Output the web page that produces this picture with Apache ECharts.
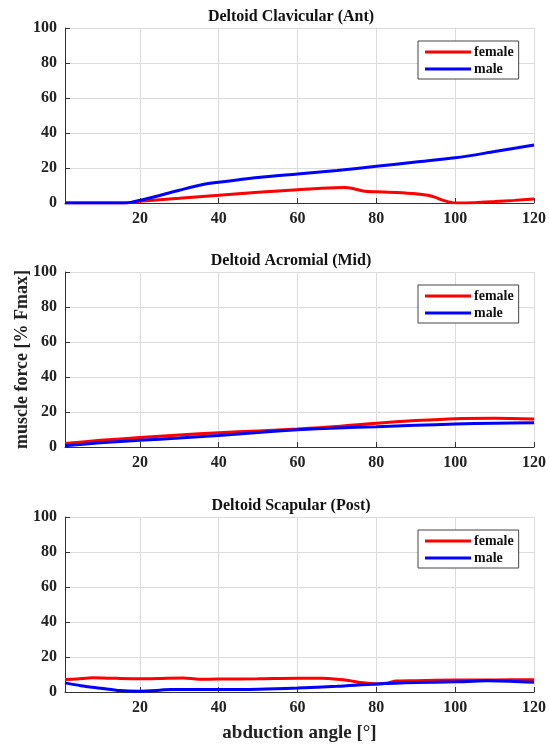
<!DOCTYPE html>
<html><head><meta charset="utf-8">
<script src="https://cdn.jsdelivr.net/npm/echarts@6/dist/echarts.min.js"></script>
<style>html,body{margin:0;padding:0;background:#fff}#c{width:549px;height:745px}</style>
</head><body><div id="c"></div>
<script>
const titles = ['Deltoid Clavicular (Ant)', 'Deltoid Acromial (Mid)', 'Deltoid Scapular (Post)'];
const xTicks = [20, 40, 60, 80, 100, 120];
const yTicks = [0, 20, 40, 60, 80, 100];
// [angle, force]
const antFemale = [[1,0],[10,0],[17,0.2],[20,1],[30,2.7],[40,4.4],[50,6.2],[60,7.6],[66,8.4],[72,8.8],[74,8.3],[77,6.7],[80,6.4],[85,6.0],[90,5.3],[93,4.4],[95,3.2],[97,1.5],[100,0],[105,0.2],[110,0.8],[115,1.5],[120,2.3]];
const antMale = [[1,0],[10,0],[16,0],[18,0.5],[20,1.5],[25,4.3],[30,7.3],[36,10.6],[40,11.9],[50,14.6],[60,16.6],[70,18.6],[80,21.0],[90,23.4],[100,25.8],[110,29.4],[120,33.2]];
const midFemale = [[1,2],[10,3.8],[20,5.4],[30,6.9],[40,8.1],[50,9.2],[60,10.3],[70,11.7],[80,13.6],[90,15.1],[100,16.2],[110,16.4],[120,16.0]];
const midMale = [[1,0.7],[10,2.4],[20,3.8],[30,5.1],[40,6.6],[50,8.3],[60,9.8],[70,10.9],[80,11.6],[90,12.4],[100,13.1],[110,13.6],[120,13.8]];
const postFemale = [[1,7.2],[4,7.4],[8,8.1],[14,7.8],[20,7.6],[27,7.9],[31,8.0],[35,7.3],[40,7.4],[50,7.6],[60,7.9],[66,7.8],[70,7.3],[73,6.6],[76,5.4],[80,4.6],[83,5.2],[85,6.3],[90,6.5],[100,6.8],[110,6.9],[120,7.0]];
const postMale = [[1,5.2],[5,3.6],[10,2.2],[15,0.8],[20,0.5],[25,1.0],[28,1.5],[35,1.4],[40,1.4],[50,1.6],[60,2.3],[70,3.3],[80,4.6],[90,5.4],[100,5.8],[108,6.4],[114,6.2],[120,5.6]];

const seriesData = [[antFemale, antMale], [midFemale, midMale], [postFemale, postMale]];
const FONT = 'Liberation Serif';
const tops = [28, 272, 517];
const gridH = 175;

const grids = [], xAxes = [], yAxes = [], series = [], legends = [], titleArr = [];
for (let i = 0; i < 3; i++) {
  grids.push({left: 65, right: 14, top: tops[i], height: gridH, containLabel: false});
  xAxes.push({
    type: 'value', gridIndex: i, min: 1, max: 120,
    axisLine: {show: true, onZero: false, lineStyle: {color: '#333', width: 1}},
    axisTick: {show: true, inside: true, length: 5, customValues: xTicks, lineStyle: {color: '#333'}},
    axisLabel: {customValues: xTicks, color: '#222', fontFamily: FONT, fontWeight: 'bold', fontSize: 16, margin: 8, hideOverlap: false, align: 'center'},
    splitLine: {show: true, lineStyle: {color: '#dcdcdc', width: 1}},
    name: i === 2 ? 'abduction angle [°]' : '',
    nameLocation: 'middle', nameGap: 32,
    nameTextStyle: {color: '#222', fontFamily: FONT, fontWeight: 'bold', fontSize: 19}
  });
  yAxes.push({
    type: 'value', gridIndex: i, min: 0, max: 100, interval: 20,
    axisLine: {show: true, lineStyle: {color: '#333', width: 1}},
    axisTick: {show: true, inside: true, length: 5, lineStyle: {color: '#333'}},
    axisLabel: {color: '#222', fontFamily: FONT, fontWeight: 'bold', fontSize: 16, margin: 8},
    splitLine: {show: true, lineStyle: {color: '#dcdcdc', width: 1}},
    name: i === 1 ? 'muscle force [% Fmax]' : '',
    nameLocation: 'middle', nameGap: 34, nameRotate: 90, nameMoveOverlap: false,
    nameTextStyle: {color: '#222', fontFamily: FONT, fontWeight: 'bold', fontSize: 18}
  });
  titleArr.push({
    text: titles[i], left: 286, top: tops[i] - 24, textAlign: 'center',
    textStyle: {fontFamily: FONT, fontWeight: 'bold', fontSize: 16, color: '#111'}
  });
  series.push({name: 'female', type: 'line', xAxisIndex: i, yAxisIndex: i, data: seriesData[i][0], smooth: 0.3, showSymbol: false, lineStyle: {color: '#ff0000', width: 3}, itemStyle: {color: '#ff0000'}, z: 3});
  series.push({name: 'male', type: 'line', xAxisIndex: i, yAxisIndex: i, data: seriesData[i][1], smooth: 0.3, showSymbol: false, lineStyle: {color: '#0000ff', width: 3}, itemStyle: {color: '#0000ff'}, z: 4});
  legends.push({
    data: ['female', 'male'], orient: 'vertical', left: 418, top: tops[i] + 13,
    backgroundColor: '#fff', borderColor: '#444', borderWidth: 1, padding: [4, 5, 3, 7],
    itemGap: 3, itemWidth: 46, itemHeight: 3, icon: 'rect', selectedMode: false,
    textStyle: {fontFamily: FONT, fontWeight: 'bold', fontSize: 14, color: '#111', padding: [0, 0, 0, -2]}
  });
}

const chart = echarts.init(document.getElementById('c'), null, {renderer: 'canvas'});
chart.setOption({
  animation: false,
  backgroundColor: '#fff',
  title: titleArr,
  grid: grids, xAxis: xAxes, yAxis: yAxes,
  legend: legends,
  series: series
});
</script></body></html>
